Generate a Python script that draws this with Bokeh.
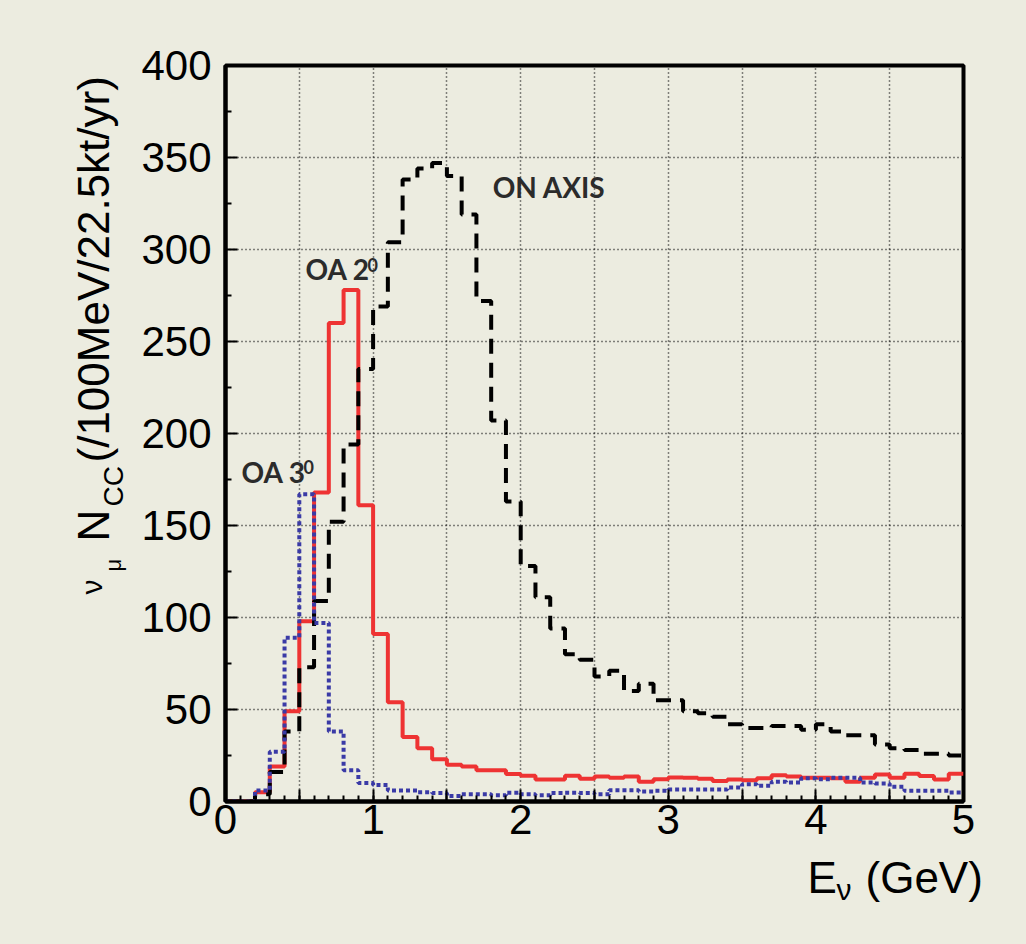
import math
from bokeh.plotting import figure
from bokeh.models import FixedTicker, CustomJSTickFormatter, Label, Range1d
from bokeh.layouts import row, column
from bokeh.embed import file_html
from bokeh.resources import INLINE

# ---- data (events per 100 MeV bin, bins 0.0-0.1 ... 4.9-5.0 GeV) ----
bin_low = [round(0.1 * i, 1) for i in range(50)]

on_axis = [0, 0, 4, 16, 38, 73, 109, 152, 194, 235,
           269, 304, 338, 344, 347, 340, 319, 272, 207, 163,
           128, 111, 94, 80, 77, 68, 71, 60, 64, 55,
           55, 49, 48, 46, 42, 40, 40, 41, 41, 39,
           42, 38, 36, 36, 31, 29, 28, 26, 26, 25]

oa_2deg = [0, 0, 5, 19, 49, 98, 168, 260, 278, 161,
           91, 54, 35, 29, 23, 20, 19, 17, 17, 15,
           14, 12, 12, 14, 12.4, 13.6, 12.9, 13.6, 10.8, 12.1,
           13.1, 12.9, 12.4, 11.2, 11.9, 11.5, 12.6, 14.2, 13.6, 12.9,
           12.9, 12.6, 10.8, 12.9, 14.7, 12.9, 15.1, 13.8, 11.9, 15.1]

oa_3deg = [0, 0, 6, 27, 89, 167, 97, 38, 17, 10,
           9, 6, 6, 5, 4.6, 3, 3.9, 3.9, 3.4, 4.8,
           3.9, 3.4, 4.6, 4.8, 4.6, 3.9, 6.1, 6.1, 5.4, 5.8,
           6.5, 6.5, 6.5, 6.5, 7.6, 9.4, 8.5, 10.8, 10.3, 12.6,
           12.1, 12.9, 12.9, 10.3, 9.8, 8.0, 5.8, 5.8, 5.8, 4.9]

x_major = [0, 0.5, 1, 1.5, 2, 2.5, 3, 3.5, 4, 4.5, 5]
x_minor = [round(0.1 * i, 1) for i in range(51)]
y_major = [0, 50, 100, 150, 200, 250, 300, 350, 400]
y_minor = [25, 75, 125, 175, 225, 275, 325, 375]

BG = "#ECECE0"
FONT = "Liberation Sans"

edges = bin_low + [5.0]


def closed(v):
    return list(v) + [v[-1]]


# ---------------- main plot ----------------
p = figure(width=896, height=852, output_backend="svg", toolbar_location=None,
           title=None,
           x_range=Range1d(0, 5), y_range=Range1d(0, 400),
           min_border_left=95, min_border_right=63,
           min_border_top=65, min_border_bottom=51)
p.background_fill_color = BG
p.border_fill_color = BG
p.outline_line_color = "black"
p.outline_line_width = 4

for ax in (p.xaxis[0], p.yaxis[0]):
    ax.axis_line_width = 4
    ax.axis_line_color = "black"
    ax.major_tick_in = 12
    ax.major_tick_out = 0
    ax.minor_tick_in = 6
    ax.minor_tick_out = 0
    ax.major_tick_line_width = 2
    ax.minor_tick_line_width = 2
    ax.major_label_text_font = FONT
    ax.major_label_text_font_size = "42px"
    ax.major_label_text_color = "black"

p.xaxis.ticker = FixedTicker(ticks=x_major, minor_ticks=x_minor)
p.xaxis.formatter = CustomJSTickFormatter(
    code="return Math.abs(tick - Math.round(tick)) < 1e-6 ? Math.round(tick).toString() : '';")
p.xaxis.major_label_standoff = 3
p.yaxis.ticker = FixedTicker(ticks=y_major, minor_ticks=y_minor)
p.yaxis.major_label_standoff = 14

for g in (p.xgrid[0], p.ygrid[0]):
    g.grid_line_color = "#111111"
    g.grid_line_dash = "1 3"
    g.grid_line_width = 1.5
p.xgrid.ticker = FixedTicker(ticks=x_major)
p.ygrid.ticker = FixedTicker(ticks=y_major)

p.step(edges, closed(oa_2deg), mode="after", line_color="#EE3333", line_width=4)
p.step(edges, closed(on_axis), mode="after", line_color="black", line_width=4,
       line_dash="15 9")
p.step(edges, closed(oa_3deg), mode="after", line_color="#3A3AA6", line_width=4,
       line_dash="4 3")

lab_style = dict(text_font="Lato", text_font_style="bold", text_color="#2b2b2b")
p.add_layout(Label(x=1.81, y=325, text="ON AXIS", text_font_size="28px", **lab_style))
p.add_layout(Label(x=0.542, y=280, text="OA 2", text_font_size="28px", **lab_style))
p.add_layout(Label(x=0.962, y=288, text="0", text_font_size="18px", **lab_style))
p.add_layout(Label(x=0.108, y=170, text="OA 3", text_font_size="28px", **lab_style))
p.add_layout(Label(x=0.528, y=178, text="0", text_font_size="18px", **lab_style))


def blank(width, height):
    f = figure(width=width, height=height, output_backend="svg", toolbar_location=None,
               title=None, x_range=Range1d(0, width), y_range=Range1d(0, height),
               x_axis_type=None, y_axis_type=None,
               min_border_left=0, min_border_right=0, min_border_top=0, min_border_bottom=0)
    f.grid.visible = False
    f.outline_line_color = None
    f.background_fill_color = BG
    f.border_fill_color = BG
    if "frame_align" in f.properties():
        f.frame_align = False
    return f


def piece(f, x, y, txt, size, angle=0.0):
    # x, y in pixels from the strip's left / bottom edge
    f.add_layout(Label(x=x, y=y, x_units="screen", y_units="screen", text=txt,
                       angle=angle, text_font=FONT, text_font_size=size,
                       text_color="black", text_align="left",
                       text_baseline="alphabetic"))


# ---------------- y-axis title (left strip, 130 x 944) ----------------
H = 944
ytitle = blank(130, H)
rot = math.pi / 2
piece(ytitle, 91, H - 594, "\u03bd", "30px", rot)
piece(ytitle, 113, H - 571, "\u03bc", "22px", rot)
piece(ytitle, 93, H - 541, "N", "44px", rot)
piece(ytitle, 113, H - 506, "CC", "28px", rot)
piece(ytitle, 93, H - 462, "(/100MeV/22.5kt/yr)", "44px", rot)

# ---------------- x-axis title (bottom strip, page x 130..1026) ----------------
xtitle = blank(896, 92)
XT = 16  # measured vertical correction of the strip
piece(xtitle, 807 - 130, H - 893 + XT, "E", "44px")
piece(xtitle, 836 - 130, H - 905 + XT, "\u03bd", "30px")
piece(xtitle, 865 - 130, H - 893 + XT, "(GeV)", "44px")

layout = row(ytitle, column(p, xtitle, spacing=0), spacing=0)

html = file_html(layout, INLINE)
html = html.replace("</head>", "<style>html, body { background: %s; }</style></head>" % BG)
open("out.html", "w").write(html)
